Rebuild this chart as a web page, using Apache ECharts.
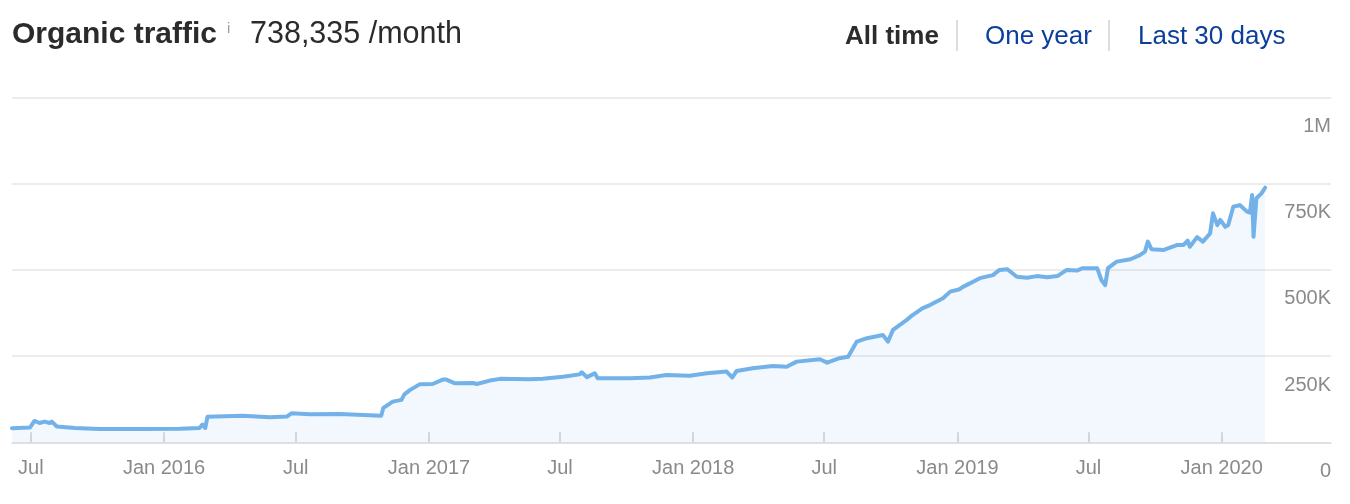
<!DOCTYPE html>
<html>
<head>
<meta charset="utf-8">
<script src="https://cdn.jsdelivr.net/npm/echarts@6/dist/echarts.min.js"></script>
<style>
  html, body { margin: 0; padding: 0; background: #ffffff; }
  #chart { width: 1350px; height: 504px; }
</style>
</head>
<body>
<div id="chart"></div>
<script>
// ---- data ----
const dates = [
  '2015-06-05','2015-06-30','2015-07-06','2015-07-13','2015-07-20','2015-07-27','2015-07-30','2015-08-06','2015-08-31','2015-10-04',
  '2015-11-29','2016-01-23','2016-02-19','2016-02-23','2016-02-27','2016-03-01','2016-04-19','2016-05-26','2016-06-19','2016-06-25',
  '2016-07-20','2016-08-31','2016-10-27','2016-10-30','2016-11-12','2016-11-24','2016-11-28','2016-12-06','2016-12-19','2017-01-06',
  '2017-01-20','2017-01-25','2017-02-06','2017-03-03','2017-03-08','2017-03-26','2017-04-09','2017-05-20','2017-06-07','2017-07-05',
  '2017-07-28','2017-07-31','2017-08-07','2017-08-18','2017-08-22','2017-10-06','2017-11-02','2017-11-25','2017-12-27','2018-01-20',
  '2018-02-16','2018-02-24','2018-03-02','2018-03-24','2018-04-21','2018-05-10','2018-05-24','2018-06-25','2018-07-05','2018-07-22',
  '2018-08-03','2018-08-15','2018-08-29','2018-09-20','2018-09-27','2018-10-04','2018-10-23','2018-10-31','2018-11-14','2018-11-24',
  '2018-12-12','2018-12-22','2019-01-04','2019-01-08','2019-02-01','2019-02-19','2019-02-28','2019-03-11','2019-03-24','2019-04-07',
  '2019-04-21','2019-05-05','2019-05-19','2019-06-01','2019-06-15','2019-06-23','2019-07-13','2019-07-19','2019-07-24','2019-07-28',
  '2019-08-09','2019-08-28','2019-09-10','2019-09-17','2019-09-21','2019-09-26','2019-10-13','2019-10-31','2019-11-09','2019-11-15',
  '2019-11-18','2019-11-28','2019-12-06','2019-12-16','2019-12-20','2019-12-26','2019-12-30','2020-01-06','2020-01-10','2020-01-17',
  '2020-01-26','2020-02-05','2020-02-09','2020-02-12','2020-02-14','2020-02-18','2020-02-25','2020-03-01'
];
const traffic = [
  41000, 43000, 62000, 56000, 60000, 56000, 60000, 46000, 41500, 38600,
  38600, 39400, 41500, 51600, 41500, 74000, 77000, 73000, 75000, 84000,
  81000, 82000, 77000, 100000, 118000, 123000, 139000, 152000, 168000, 169000,
  182000, 182000, 171000, 172000, 169000, 179000, 184000, 183000, 184000, 190000,
  197000, 203000, 189000, 200000, 186000, 186000, 188000, 195000, 193000, 200000,
  205000, 188000, 207000, 215000, 221000, 219000, 234000, 241000, 231000, 244000,
  248000, 292000, 302000, 311000, 292000, 326000, 355000, 369000, 389000, 398000,
  418000, 437000, 444000, 450000, 476000, 485000, 500000, 502000, 480000, 477000,
  482000, 479000, 482000, 500000, 498000, 505000, 505000, 470000, 456000, 505000,
  524000, 531000, 543000, 553000, 582000, 560000, 558000, 572000, 572000, 585000,
  567000, 595000, 582000, 606000, 664000, 630000, 645000, 625000, 630000, 683000,
  688000, 669000, 666000, 717000, 596000, 708000, 722000, 738335
];
const xTickDates = ['2015-07-01','2016-01-01','2016-07-01','2017-01-01','2017-07-01','2018-01-01','2018-07-01','2019-01-01','2019-07-01','2020-01-01'];
const xTickLabels = ['Jul','Jan 2016','Jul','Jan 2017','Jul','Jan 2018','Jul','Jan 2019','Jul','Jan 2020'];
const yTickValues = [0, 250000, 500000, 750000, 1000000];
const yTickLabels = ['0','250K','500K','750K','1M'];
const titleText = 'Organic traffic';
const totalText = '738,335 /month';
const rangeLabels = ['All time', 'One year', 'Last 30 days'];

// ---- chart ----
const FONT = '"Liberation Sans", Arial, Helvetica, sans-serif';
const toTs = s => { const p = s.split('-').map(Number); return Date.UTC(p[0], p[1] - 1, p[2]); };
const tickTs = xTickDates.map(toTs);
const seriesData = dates.map((d, i) => [toTs(d), traffic[i]]);

const chart = echarts.init(document.getElementById('chart'), null, { renderer: 'canvas' });
chart.setOption({
  animation: false,
  backgroundColor: '#ffffff',
  grid: { left: 12, right: 19, top: 97.5, bottom: 61.7, containLabel: false },
  xAxis: {
    type: 'value',
    min: toTs('2015-06-05'),
    max: toTs('2020-05-31'),
    axisLine: { lineStyle: { color: '#dcdcdc', width: 1.5 } },
    axisTick: { inside: true, length: 10, customValues: tickTs, lineStyle: { color: '#cfcfcf', width: 1.5 } },
    axisLabel: {
      customValues: tickTs,
      color: '#8a8a8a', fontSize: 20, fontFamily: FONT, margin: 16,
      formatter: function (v) {
        let best = 0, bd = Infinity;
        tickTs.forEach((t, i) => { const dd = Math.abs(t - v); if (dd < bd) { bd = dd; best = i; } });
        return xTickLabels[best];
      }
    },
    splitLine: { show: false }
  },
  yAxis: {
    type: 'value',
    position: 'right',
    min: 0, max: 1000000, interval: 250000,
    axisLine: { show: false },
    axisTick: { show: false },
    splitLine: { lineStyle: { color: '#e6e6e6', width: 1.5 } },
    axisLabel: {
      inside: true, margin: 0,
      color: '#8a8a8a', fontSize: 20, fontFamily: FONT,
      verticalAlign: 'top', padding: [19, 0, 0, 0],
      formatter: function (v) { const i = yTickValues.indexOf(v); return i >= 0 ? yTickLabels[i] : ''; }
    }
  },
  series: [{
    type: 'line',
    data: seriesData,
    showSymbol: false,
    symbol: 'none',
    lineStyle: { color: '#72b2e8', width: 4, join: 'round', cap: 'round' },
    areaStyle: { color: 'rgba(100,170,240,0.11)' },
    z: 3
  }],
  graphic: [
    { type: 'text', style: { x: 12, y: 35, text: titleText, font: 'bold 30px ' + FONT, fill: '#2b2b2b', verticalAlign: 'middle', align: 'left' } },
    { type: 'text', style: { x: 227, y: 29, text: 'i', font: '15px ' + FONT, fill: '#a0a0a0', verticalAlign: 'middle', align: 'left' } },
    { type: 'text', style: { x: 250, y: 35, text: totalText, font: '30.5px ' + FONT, fill: '#2b2b2b', verticalAlign: 'middle', align: 'left' } },
    { type: 'text', style: { x: 845, y: 37, text: rangeLabels[0], font: 'bold 26px ' + FONT, fill: '#2b2b2b', verticalAlign: 'middle', align: 'left' } },
    { type: 'line', shape: { x1: 957, y1: 20, x2: 957, y2: 51 }, style: { stroke: '#dddddd', lineWidth: 2 } },
    { type: 'text', style: { x: 985, y: 37, text: rangeLabels[1], font: '26px ' + FONT, fill: '#0c3f9c', verticalAlign: 'middle', align: 'left' } },
    { type: 'line', shape: { x1: 1109, y1: 20, x2: 1109, y2: 51 }, style: { stroke: '#dddddd', lineWidth: 2 } },
    { type: 'text', style: { x: 1138, y: 37, text: rangeLabels[2], font: '26px ' + FONT, fill: '#0c3f9c', verticalAlign: 'middle', align: 'left' } }
  ]
});
</script>
</body>
</html>
